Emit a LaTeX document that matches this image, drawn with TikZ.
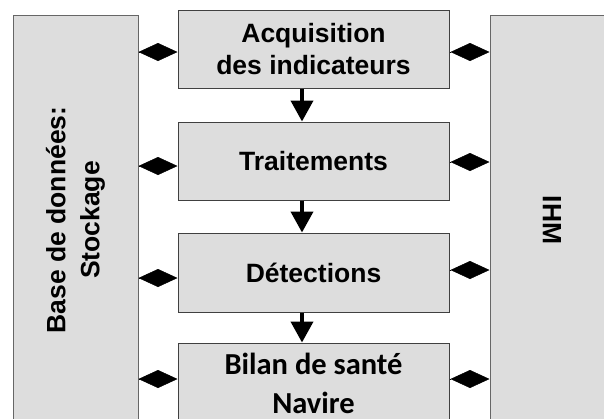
\documentclass[tikz,border=0pt]{standalone}
\usepackage{fontspec}
\setmainfont{Liberation Sans}
\newfontfamily\calib{Carlito}
\usetikzlibrary{arrows.meta}
\definecolor{boxgray}{RGB}{221,221,221}

\begin{document}
\begin{tikzpicture}[x=1pt,y=-1pt,
    bloc/.style={draw=black!75,fill=boxgray,line width=1pt,minimum width=271pt,inner sep=0pt,
                 align=center,font=\bfseries\fontsize{26.5}{32}\selectfont},
    cote/.style={draw=black!60,fill=boxgray,line width=1pt,minimum width=410pt,minimum height=125pt,inner sep=0pt,
                 align=center,font=\bfseries\fontsize{26.5}{34}\selectfont},
    flow/.style={line width=4pt,-{Triangle[length=21pt,width=22pt]}},
    link/.style={line width=0.5pt,-{Diamond[length=39pt,width=18pt]}}]
            \useasboundingbox (0,0) rectangle (604,418);
            \clip (0,0) rectangle (604,418);
            % cotes : stockage a gauche, IHM a droite
            \node[cote,rotate=90] (db) at (75.5,220) {Base de données:\\Stockage};
            \node[cote,minimum height=124pt,rotate=-90] (ihm) at (552,220) {IHM};
            % chaine de traitement
            \node[bloc,minimum height=78pt] (acq) at (313.5,49) {Acquisition\\des indicateurs};
            \node[bloc,minimum height=78pt] (trt) at (313.5,161) {Traitements};
            \node[bloc,minimum height=79pt] (det) at (313.5,272.5) {Détections};
            \node[bloc,minimum height=80pt,font=\calib\bfseries\fontsize{30.5}{39}\selectfont] (bil) at (313.5,383) {Bilan de santé\\Navire};
            \draw[flow] ([xshift=-11.5pt]acq.south) -- ([xshift=-11.5pt]trt.north);
            \draw[flow] ([xshift=-11.5pt]trt.south) -- ([xshift=-11.5pt]det.north);
            \draw[flow] ([xshift=-11.5pt]det.south) -- ([xshift=-11.5pt]bil.north);
            % liens
            \draw[link] (db.south |- 0,52) -- (acq.west |- 0,52);
            \draw[link] (db.south |- 0,166) -- (trt.west |- 0,166);
            \draw[link] (db.south |- 0,278) -- (det.west |- 0,278);
            \draw[link] (db.south |- 0,379) -- (bil.west |- 0,379);
            \draw[link] (acq.east |- 0,52) -- (ihm.south |- 0,52);
            \draw[link] (trt.east |- 0,162) -- (ihm.south |- 0,162);
            \draw[link] (det.east |- 0,270) -- (ihm.south |- 0,270);
            \draw[link] (bil.east |- 0,379) -- (ihm.south |- 0,379);
        \end{tikzpicture}
\end{document}
